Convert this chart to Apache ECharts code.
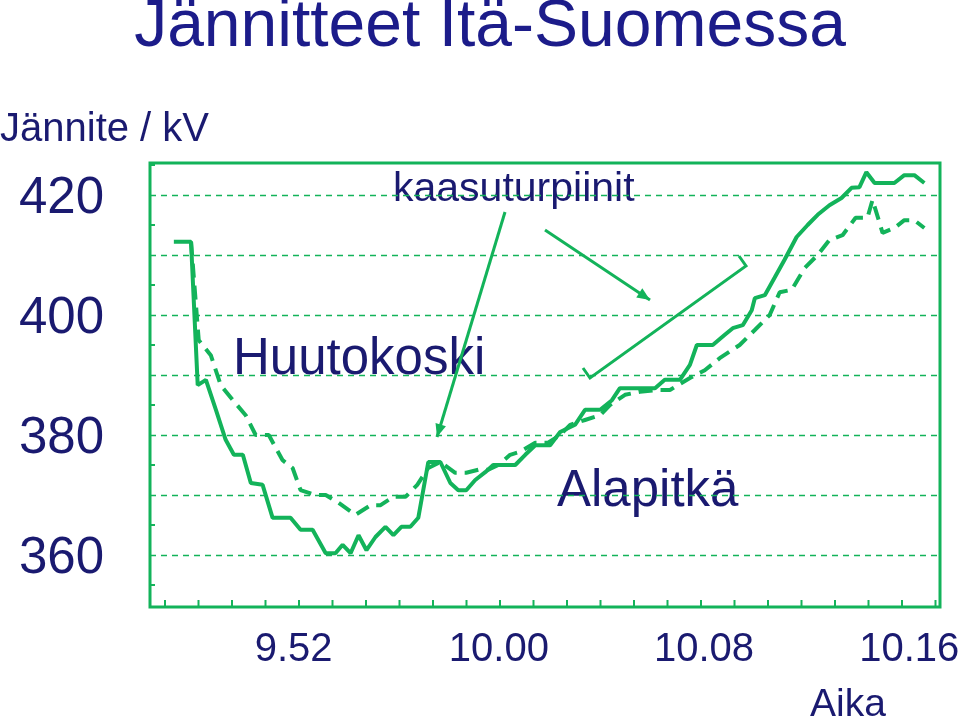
<!DOCTYPE html>
<html>
<head>
<meta charset="utf-8">
<script src="https://cdn.jsdelivr.net/npm/echarts@6/dist/echarts.min.js"></script>
<style>html,body{margin:0;padding:0;background:#fff}#chart{width:960px;height:720px}</style>
</head>
<body>
<div id="chart"></div>
<script>
// aika minuutteina klo 9.52 jälkeen, jännite kV
const solidTime = [-4.67,-4.0,-3.74,-3.42,-3.03,-2.65,-2.33,-1.98,-1.67,-1.21,-0.82,-0.12,0.27,0.74,1.25,1.63,1.91,2.22,2.53,2.84,3.19,3.58,3.89,4.2,4.55,4.86,5.25,5.72,6.11,6.42,6.73,7.08,7.47,7.78,8.25,8.64,9.03,9.42,10.0,10.39,10.97,11.36,11.95,12.41,12.72,13.5,14.09,14.47,15.06,15.45,15.72,16.34,16.81,17.12,17.51,17.86,17.98,18.37,18.75,19.14,19.61,20.04,20.43,20.89,21.36,21.75,22.06,22.33,22.65,23.42,23.81,24.2,24.59];
const solidKv = [412.2,412.2,388.3,389.2,384.2,379.2,376.7,376.7,372.0,371.7,366.2,366.2,364.2,364.2,360.3,360.3,361.7,360.3,363.3,360.8,363.0,364.7,363.3,364.7,364.7,366.2,375.5,375.5,372.0,370.8,370.8,372.5,373.8,375.0,375.0,375.0,376.7,378.3,378.3,380.5,381.7,384.2,384.2,385.8,387.8,387.8,387.8,389.2,389.2,391.7,395.0,395.0,396.7,397.8,398.3,400.8,402.8,403.3,406.2,409.2,413.0,415.0,416.7,418.3,419.5,421.2,421.3,423.8,422.0,422.0,423.3,423.3,422.0];
const dashTime = [-4.0,-3.7,-3.23,-2.84,-2.37,-1.87,-1.48,-0.97,-0.43,-0.04,0.27,0.86,1.25,1.75,2.41,3.0,3.39,3.89,4.36,4.82,5.25,5.72,6.3,6.73,7.2,7.59,7.98,8.44,8.83,9.42,9.92,10.39,10.78,11.36,11.95,12.33,12.92,13.5,14.2,14.67,15.45,16.03,16.61,17.39,17.98,18.56,18.95,19.42,19.92,20.43,20.89,21.4,21.91,22.37,22.57,22.96,23.42,23.81,24.2,24.59];
const dashKv = [412.2,395.8,393.3,388.3,385.8,383.3,380.0,380.0,375.8,374.5,370.8,370.0,370.0,368.7,366.7,368.3,368.3,369.7,369.7,371.7,374.5,375.5,373.7,373.7,374.2,374.2,375.0,376.7,377.2,378.7,378.7,380.0,381.7,382.5,383.3,385.0,386.7,387.2,387.5,387.5,389.5,390.8,392.8,395.0,397.5,400.0,403.8,404.2,407.8,410.0,412.5,413.3,416.2,416.2,419.2,413.7,414.5,415.8,415.8,414.5];
const gridLevels = [420, 410, 400, 390, 380, 370, 360];
const yLabels = [420, 400, 380, 360];
const xLabelMin = [0, 8, 16, 24];
const xLabelText = ['9.52', '10.00', '10.08', '10.16'];

const GREEN = '#13b35a';
const NAVY = '#1a1a70';
const pair = (t, v) => t.map((x, i) => [x, v[i]]);

const chart = echarts.init(document.getElementById('chart'));
chart.setOption({
  animation: false,
  grid: { left: 150, right: 20, top: 159, bottom: 105 },
  xAxis: { type: 'value', min: -5.6, max: 25.2, show: false },
  yAxis: { type: 'value', min: 350, max: 426, show: false },
  series: [
    {
      type: 'line', data: pair(solidTime, solidKv), symbol: 'none',
      lineStyle: { color: GREEN, width: 4 },
      markLine: {
        silent: true, symbol: 'none', label: { show: false },
        lineStyle: { color: GREEN, type: [6, 5], width: 1.3 },
        data: gridLevels.map(v => ({ yAxis: v }))
      }
    },
    {
      type: 'line', data: pair(dashTime, dashKv), symbol: 'none',
      lineStyle: { color: GREEN, width: 4, type: [14, 8] }
    }
  ]
});

const px = (x, y) => chart.convertToPixel({ gridIndex: 0 }, [x, y]);
const txt = (x, y, s, size, align, color) => ({
  type: 'text', x, y,
  style: { text: s, font: size + 'px Arial, "Liberation Sans"', fill: color || NAVY, align: align || 'left', verticalAlign: 'middle' }
});
const g = [];
// kehys
g.push({ type: 'rect', shape: { x: 150, y: 163, width: 790, height: 444 }, style: { fill: 'none', stroke: GREEN, lineWidth: 3 } });
// alareunan tikit
for (let x = 165; x < 940; x += 33.5) g.push({ type: 'line', shape: { x1: x, y1: 600, x2: x, y2: 607 }, style: { stroke: GREEN, lineWidth: 2 } });
// vasemman reunan tikit
for (let v = 425; v > 352; v -= 10) { const p = px(0, v); g.push({ type: 'line', shape: { x1: 150, y1: p[1], x2: 155, y2: p[1] }, style: { stroke: GREEN, lineWidth: 2 } }); }
yLabels.forEach(v => g.push(txt(104, px(0, v)[1] + 4, String(v), 51, 'right')));
xLabelMin.forEach((m, i) => g.push(txt(px(m, 400)[0], 650, xLabelText[i], 40, 'center')));
g.push(txt(490, 28, 'Jännitteet Itä-Suomessa', 66, 'center', '#1c1c8a'));
g.push(txt(0, 130, 'Jännite / kV', 40));
g.push(txt(393, 190, 'kaasuturpiinit', 41));
g.push(txt(233, 360, 'Huutokoski', 51));
g.push(txt(557, 492, 'Alapitkä', 51));
g.push(txt(810, 705, 'Aika', 39));
// nuolet
const arrow = (x1, y1, x2, y2) => {
  const a = Math.atan2(y2 - y1, x2 - x1), L = 14, w = 0.4;
  g.push({ type: 'line', shape: { x1, y1, x2, y2 }, style: { stroke: GREEN, lineWidth: 3 } });
  g.push({ type: 'polygon', shape: { points: [[x2, y2], [x2 - L * Math.cos(a - w), y2 - L * Math.sin(a - w)], [x2 - L * Math.cos(a + w), y2 - L * Math.sin(a + w)]] }, style: { fill: GREEN } });
};
arrow(505, 212, 437, 437);
arrow(545, 230, 650, 300);
g.push({ type: 'polyline', shape: { points: [[583, 368], [590, 378], [746, 266], [739, 256]] }, style: { stroke: GREEN, lineWidth: 3, fill: 'none' } });
chart.setOption({ graphic: g });
</script>
</body>
</html>
